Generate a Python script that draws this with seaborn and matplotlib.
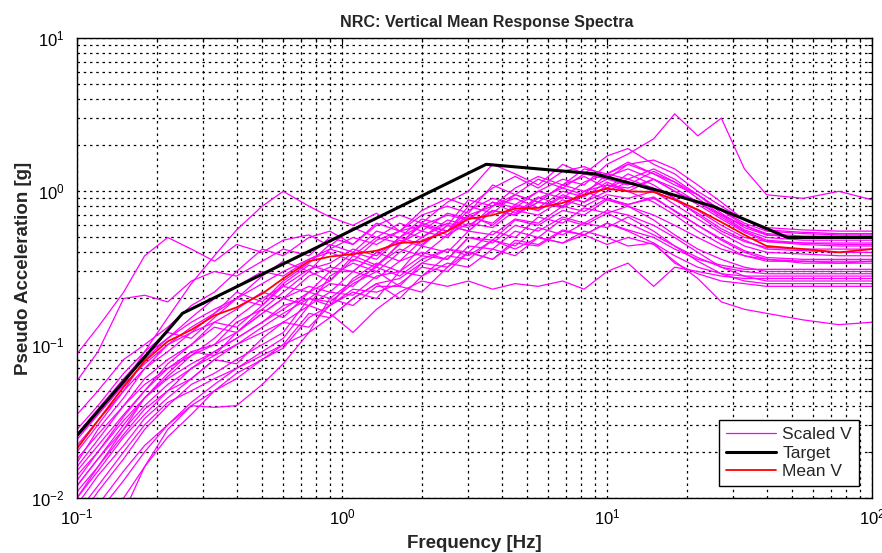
import numpy as np
import pandas as pd
import matplotlib
matplotlib.use("Agg")
import matplotlib.pyplot as plt
import seaborn as sns
from matplotlib.lines import Line2D
from matplotlib.ticker import LogLocator, NullFormatter

# ---------------- data ----------------
freq = [0.1, 0.12, 0.15, 0.18, 0.22, 0.27, 0.33, 0.4, 0.5, 0.6, 0.75, 0.9, 1.1, 1.35,
        1.65, 2.0, 2.5, 3.0, 3.7, 4.5, 5.5, 6.8, 8.2, 10, 12, 15, 18, 22, 27, 33, 40,
        55, 75, 100]

scaled_v = [
    [0.012,0.018,0.03,0.045,0.062,0.085,0.11,0.15,0.2,0.24,0.31,0.34,0.42,0.38,0.5,0.6,0.55,0.75,0.9,0.82,1.0,1.2,1.1,1.5,1.75,2.2,3.2,2.3,3.0,1.4,0.95,0.9,1.0,0.88],
    [0.087,0.13,0.22,0.38,0.5,0.42,0.35,0.45,0.4,0.48,0.52,0.44,0.58,0.5,0.62,0.55,0.72,0.66,0.85,0.72,0.92,0.8,1.0,0.88,0.8,0.7,0.6,0.5,0.42,0.38,0.36,0.35,0.34,0.35],
    [0.058,0.09,0.2,0.21,0.19,0.26,0.3,0.28,0.35,0.42,0.38,0.5,0.45,0.62,0.55,0.7,0.8,0.72,1.1,0.95,1.2,1.05,1.3,1.2,1.5,1.3,1.1,0.95,0.75,0.62,0.55,0.53,0.52,0.52],
    [0.025,0.035,0.055,0.09,0.15,0.25,0.38,0.56,0.8,1.0,0.8,0.68,0.6,0.72,0.55,0.75,0.9,0.8,1.05,1.25,1.05,1.35,1.45,1.25,1.4,1.2,1.0,0.85,0.7,0.6,0.52,0.5,0.5,0.5],
    [0.035,0.05,0.08,0.1,0.13,0.18,0.22,0.3,0.42,0.38,0.5,0.55,0.45,0.6,0.7,0.62,0.85,1.0,1.5,1.3,1.1,1.5,1.3,1.7,1.9,1.5,1.3,1.0,0.8,0.65,0.58,0.56,0.55,0.55],
    [0.02,0.03,0.05,0.08,0.11,0.14,0.17,0.2,0.28,0.35,0.3,0.42,0.5,0.45,0.55,0.6,0.52,0.7,0.8,0.95,0.85,1.1,1.0,1.2,1.1,1.35,1.15,0.9,0.7,0.56,0.5,0.48,0.48,0.48],
    [0.028,0.04,0.065,0.09,0.12,0.11,0.15,0.2,0.18,0.25,0.33,0.3,0.4,0.36,0.5,0.45,0.6,0.55,0.75,0.7,0.9,1.05,0.95,1.3,1.5,1.6,1.4,1.1,0.85,0.65,0.56,0.54,0.53,0.53],
    [0.022,0.032,0.05,0.07,0.09,0.12,0.14,0.17,0.22,0.2,0.28,0.32,0.3,0.4,0.35,0.48,0.55,0.7,0.6,0.8,0.75,0.95,0.85,1.1,1.0,1.2,1.05,0.85,0.68,0.55,0.48,0.46,0.45,0.45],
    [0.018,0.026,0.04,0.06,0.08,0.1,0.14,0.13,0.18,0.24,0.22,0.3,0.3,0.4,0.48,0.44,0.6,0.55,0.75,0.7,0.85,0.8,1.0,1.1,1.05,1.2,1.0,0.82,0.66,0.54,0.47,0.45,0.44,0.44],
    [0.015,0.022,0.035,0.05,0.07,0.09,0.1,0.14,0.17,0.15,0.22,0.26,0.36,0.32,0.46,0.55,0.5,0.68,0.62,0.82,0.75,0.92,0.85,1.0,1.15,1.0,0.88,0.72,0.57,0.48,0.42,0.41,0.40,0.40],
    [0.013,0.02,0.032,0.045,0.06,0.075,0.09,0.11,0.14,0.18,0.2,0.25,0.24,0.33,0.42,0.38,0.52,0.62,0.58,0.75,0.7,0.88,0.8,0.95,0.9,1.0,0.82,0.66,0.53,0.44,0.4,0.39,0.38,0.38],
    [0.011,0.016,0.026,0.038,0.05,0.07,0.085,0.1,0.13,0.16,0.2,0.18,0.27,0.34,0.3,0.44,0.4,0.55,0.52,0.66,0.62,0.8,0.74,0.9,0.82,0.92,0.74,0.6,0.49,0.41,0.37,0.36,0.36,0.36],
    [0.009,0.014,0.022,0.033,0.045,0.06,0.08,0.075,0.11,0.14,0.13,0.18,0.22,0.2,0.3,0.38,0.36,0.5,0.48,0.65,0.6,0.75,0.7,0.88,0.82,0.9,0.75,0.6,0.48,0.4,0.36,0.34,0.34,0.34],
    [0.007,0.011,0.018,0.028,0.04,0.055,0.065,0.08,0.1,0.12,0.2,0.19,0.25,0.3,0.24,0.34,0.42,0.4,0.55,0.5,0.68,0.62,0.78,0.72,0.8,0.65,0.52,0.42,0.36,0.32,0.3,0.3,0.3,0.30],
    [0.002,0.004,0.008,0.016,0.028,0.04,0.039,0.04,0.055,0.075,0.12,0.15,0.2,0.25,0.27,0.34,0.32,0.44,0.42,0.55,0.5,0.66,0.6,0.72,0.62,0.52,0.44,0.37,0.32,0.3,0.29,0.29,0.29,0.29],
    [0.006,0.009,0.015,0.022,0.03,0.04,0.05,0.065,0.08,0.1,0.12,0.2,0.18,0.24,0.24,0.22,0.32,0.4,0.36,0.46,0.44,0.55,0.52,0.62,0.55,0.46,0.38,0.32,0.29,0.28,0.28,0.28,0.28,0.28],
    [0.01,0.015,0.025,0.035,0.05,0.06,0.08,0.1,0.12,0.14,0.18,0.16,0.12,0.17,0.22,0.26,0.24,0.26,0.23,0.25,0.24,0.26,0.23,0.3,0.34,0.24,0.32,0.3,0.28,0.27,0.27,0.27,0.27,0.27],
    [0.016,0.024,0.04,0.055,0.07,0.085,0.1,0.12,0.16,0.2,0.24,0.22,0.3,0.27,0.35,0.4,0.36,0.5,0.46,0.6,0.55,0.68,0.62,0.75,0.7,0.6,0.5,0.4,0.32,0.28,0.26,0.26,0.26,0.26],
    [0.008,0.012,0.02,0.03,0.042,0.05,0.06,0.07,0.09,0.11,0.18,0.22,0.21,0.28,0.3,0.28,0.38,0.36,0.48,0.44,0.58,0.52,0.62,0.58,0.68,0.55,0.44,0.35,0.29,0.26,0.25,0.25,0.25,0.25],
    [0.005,0.008,0.013,0.02,0.03,0.042,0.055,0.07,0.085,0.1,0.16,0.15,0.2,0.25,0.2,0.28,0.34,0.32,0.42,0.38,0.5,0.46,0.55,0.5,0.44,0.46,0.34,0.29,0.26,0.25,0.24,0.24,0.24,0.24],
    [0.012,0.018,0.028,0.04,0.055,0.07,0.09,0.11,0.14,0.17,0.22,0.2,0.26,0.32,0.28,0.36,0.42,0.38,0.48,0.42,0.5,0.46,0.52,0.45,0.5,0.45,0.35,0.27,0.19,0.17,0.16,0.145,0.135,0.14],
    [0.024,0.035,0.055,0.075,0.1,0.12,0.16,0.2,0.25,0.3,0.36,0.4,0.35,0.48,0.55,0.5,0.65,0.6,0.75,0.7,0.85,0.78,0.95,1.05,1.2,1.05,0.9,0.75,0.6,0.5,0.47,0.46,0.46,0.46],
    [0.004,0.006,0.01,0.016,0.025,0.035,0.05,0.06,0.08,0.095,0.15,0.18,0.23,0.22,0.25,0.32,0.3,0.4,0.36,0.48,0.45,0.56,0.52,0.62,0.56,0.5,0.42,0.36,0.33,0.31,0.31,0.31,0.31,0.31],
    [0.026,0.038,0.06,0.085,0.11,0.15,0.2,0.24,0.3,0.28,0.36,0.42,0.38,0.5,0.46,0.6,0.7,0.65,0.85,0.78,1.0,0.9,1.15,1.3,1.2,1.4,1.2,0.95,0.75,0.6,0.53,0.51,0.51,0.51],
    [0.014,0.02,0.034,0.05,0.075,0.1,0.13,0.12,0.17,0.22,0.3,0.26,0.38,0.33,0.45,0.62,0.55,0.8,0.72,0.95,0.85,1.1,1.25,1.05,1.3,1.1,0.9,0.7,0.55,0.47,0.43,0.42,0.42,0.42],
    [0.01,0.016,0.028,0.045,0.065,0.09,0.085,0.12,0.16,0.2,0.18,0.28,0.34,0.3,0.4,0.5,0.62,0.58,0.8,0.9,0.78,1.0,0.92,1.15,1.0,0.85,0.7,0.55,0.45,0.38,0.35,0.35,0.35,0.35],
    [0.017,0.028,0.045,0.07,0.1,0.13,0.16,0.22,0.19,0.26,0.34,0.45,0.4,0.55,0.5,0.66,0.6,0.88,0.8,1.05,1.25,1.1,1.4,1.3,1.55,1.3,1.15,0.95,0.72,0.58,0.52,0.5,0.5,0.5],
]

mean_v = [0.021, 0.032, 0.053, 0.078, 0.105, 0.125, 0.155, 0.175, 0.215, 0.27, 0.35, 0.375,
          0.39, 0.41, 0.46, 0.47, 0.55, 0.66, 0.70, 0.77, 0.78, 0.84, 0.95, 1.04, 1.0, 0.99,
          0.88, 0.76, 0.63, 0.52, 0.44, 0.42, 0.40, 0.42]

target_f = [0.1, 0.25, 3.5, 9.0, 16.0, 25.0, 35.0, 48.0, 100.0]
target_v = [0.0256, 0.16, 1.5, 1.3, 1.0, 0.8, 0.63, 0.5, 0.5]

# ---------------- frame ----------------
rows = []
for i, series in enumerate(scaled_v):
    for f, v in zip(freq, series):
        rows.append((i, f, v))
df = pd.DataFrame(rows, columns=["rec", "freq", "psa"])
df_mean = pd.DataFrame({"freq": freq, "psa": mean_v})
df_target = pd.DataFrame({"freq": target_f, "psa": target_v})

sns.set_theme(style="white")
plt.rcParams["font.family"] = ["Liberation Sans", "DejaVu Sans"]
plt.rcParams["mathtext.fontset"] = "custom"
plt.rcParams["mathtext.rm"] = "Liberation Sans"
plt.rcParams["mathtext.it"] = "Liberation Sans"
plt.rcParams["mathtext.bf"] = "Liberation Sans:bold"

fig = plt.figure(figsize=(8.82, 5.53), dpi=100)
ax = fig.add_axes([0.0873, 0.0995, 0.9014, 0.8318])

sns.lineplot(data=df, x="freq", y="psa", units="rec", estimator=None,
             color="#ff00ff", linewidth=0.9, ax=ax, legend=False, sort=False)
sns.lineplot(data=df_target, x="freq", y="psa", color="black", linewidth=2.2,
             ax=ax, legend=False, sort=False)
sns.lineplot(data=df_mean, x="freq", y="psa", color="#ff0000", linewidth=1.3,
             ax=ax, legend=False, sort=False)

ax.set_xscale("log")
ax.set_yscale("log")
ax.set_xlim(0.1, 100)
ax.set_ylim(0.01, 10)

ax.xaxis.set_major_locator(LogLocator(base=10, numticks=10))
ax.yaxis.set_major_locator(LogLocator(base=10, numticks=10))
ax.xaxis.set_minor_locator(LogLocator(base=10, subs=np.arange(2, 10), numticks=20))
ax.yaxis.set_minor_locator(LogLocator(base=10, subs=np.arange(2, 10), numticks=20))
ax.xaxis.set_minor_formatter(NullFormatter())
ax.yaxis.set_minor_formatter(NullFormatter())

ax.grid(which="both", color="black", linestyle=(0, (2, 3)), linewidth=0.9)
ax.set_axisbelow(True)
ax.tick_params(which="both", direction="in", top=True, right=True, colors="black",
               labelsize=12)
ax.tick_params(which="major", length=5, width=0.8)
ax.tick_params(which="minor", length=3, width=0.8)
ax.tick_params(axis="x", pad=7)
ax.tick_params(axis="y", pad=9)
for s in ax.spines.values():
    s.set_color("black")
    s.set_linewidth(1.0)

ax.set_title("NRC: Vertical Mean Response Spectra", fontsize=11.6, fontweight="bold",
             pad=8, x=0.515)
ax.set_xlabel("Frequency [Hz]", fontsize=13.5, fontweight="bold", labelpad=5)
ax.set_ylabel("Pseudo Acceleration [g]", fontsize=13.5, fontweight="bold", labelpad=-1)

handles = [Line2D([], [], color="#ff00ff", lw=0.9),
           Line2D([], [], color="black", lw=2.2),
           Line2D([], [], color="#ff0000", lw=1.3)]
leg = ax.legend(handles, ["Scaled V", "Target", "Mean V"], loc="lower right",
                bbox_to_anchor=(0.99, 0.015), fontsize=12.5, frameon=True, fancybox=False,
                framealpha=1, edgecolor="black", borderpad=0.4, labelspacing=0.18,
                handlelength=2.9, handletextpad=0.35, borderaxespad=0.3)
leg.get_frame().set_linewidth(1.0)

fig.savefig("out.png", dpi=100)
